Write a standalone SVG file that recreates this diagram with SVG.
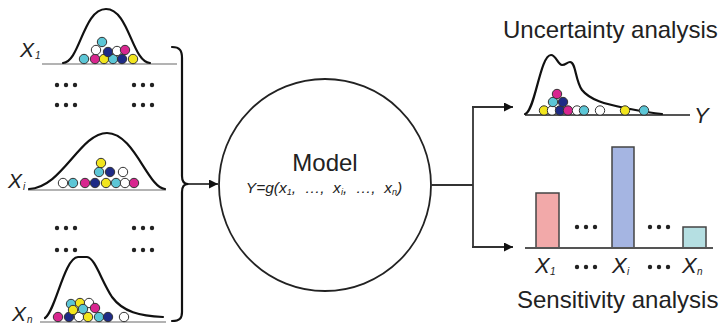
<svg xmlns="http://www.w3.org/2000/svg" width="727" height="327" viewBox="0 0 727 327">
<defs>
<style>
.base{stroke:#9a9a9a;stroke-width:1.6;fill:none}
.curve{stroke:#111;stroke-width:2.2;fill:none;stroke-linejoin:round;stroke-linecap:round}
.b{stroke:#333;stroke-width:1}
.c{fill:#5cc6d6}.m{fill:#d8268f}.y{fill:#f2e51e}.n{fill:#1e2b86}.w{fill:#ffffff}
.lbl{font-family:"Liberation Sans",Arial,sans-serif;font-style:italic;fill:#222}
.txt{font-family:"Liberation Sans",Arial,sans-serif;fill:#222}
.conn{stroke:#333;stroke-width:1.8;fill:none}
.dot{fill:#222}
.axis{stroke:#555;stroke-width:2}
</style>
<marker id="arrw" viewBox="0 0 10 10" refX="10" refY="5" markerWidth="10" markerHeight="9" markerUnits="userSpaceOnUse" orient="auto">
<path d="M0,0 L10,5 L0,10 z" fill="#111"/>
</marker>
</defs>

<g id="dist-x1">
<line class="base" x1="42" y1="64" x2="177" y2="64"/>
<path class="curve" d="M63,63 C80,62 83,9 106,9 C129,9 132,62 150,63"/>
<g class="b">
<circle class="c" cx="84" cy="59" r="4.7"/><circle class="m" cx="95" cy="59" r="4.7"/><circle class="y" cx="104" cy="59" r="4.7"/><circle class="c" cx="113" cy="59" r="4.7"/><circle class="n" cx="122" cy="59" r="4.7"/><circle class="y" cx="133" cy="59" r="4.7"/>
<circle class="w" cx="96" cy="50" r="4.7"/><circle class="n" cx="108" cy="52" r="4.7"/><circle class="w" cx="117" cy="51" r="4.7"/><circle class="m" cx="125" cy="50" r="4.7"/>
<circle class="c" cx="102" cy="42" r="4.7"/>
</g>
<text class="lbl" x="20" y="57" font-size="21">X</text><text class="lbl" x="35" y="59" font-size="10">1</text>
</g>

<g id="dots-top">
<circle class="dot" cx="57" cy="85" r="2.2"/><circle class="dot" cx="66" cy="85" r="2.2"/><circle class="dot" cx="75" cy="85" r="2.2"/>
<circle class="dot" cx="134" cy="85" r="2.2"/><circle class="dot" cx="143" cy="85" r="2.2"/><circle class="dot" cx="152" cy="85" r="2.2"/>
<circle class="dot" cx="57" cy="105" r="2.2"/><circle class="dot" cx="66" cy="105" r="2.2"/><circle class="dot" cx="75" cy="105" r="2.2"/>
<circle class="dot" cx="134" cy="105" r="2.2"/><circle class="dot" cx="143" cy="105" r="2.2"/><circle class="dot" cx="152" cy="105" r="2.2"/>
</g>

<g id="dist-xi">
<line class="base" x1="28" y1="190" x2="166" y2="190"/>
<path class="curve" d="M29,189 C62,188 80,133 107,133 C134,133 148,188 165,189"/>
<g class="b">
<circle class="w" cx="63" cy="183" r="4.7"/><circle class="c" cx="73" cy="183" r="4.7"/><circle class="m" cx="85" cy="183" r="4.7"/><circle class="n" cx="95" cy="183" r="4.7"/><circle class="y" cx="106" cy="183" r="4.7"/><circle class="c" cx="116" cy="183" r="4.7"/><circle class="w" cx="125" cy="183" r="4.7"/><circle class="m" cx="134" cy="183" r="4.7"/>
<circle class="c" cx="99" cy="172" r="4.7"/><circle class="n" cx="110" cy="172" r="4.7"/><circle class="w" cx="123" cy="172" r="4.7"/>
<circle class="y" cx="101" cy="163" r="4.7"/>
</g>
<text class="lbl" x="8" y="188" font-size="21">X</text><text class="lbl" x="23" y="190" font-size="10">i</text>
</g>

<g id="dots-bottom">
<circle class="dot" cx="57" cy="228" r="2.2"/><circle class="dot" cx="66" cy="228" r="2.2"/><circle class="dot" cx="75" cy="228" r="2.2"/>
<circle class="dot" cx="134" cy="228" r="2.2"/><circle class="dot" cx="143" cy="228" r="2.2"/><circle class="dot" cx="152" cy="228" r="2.2"/>
<circle class="dot" cx="57" cy="250" r="2.2"/><circle class="dot" cx="66" cy="250" r="2.2"/><circle class="dot" cx="75" cy="250" r="2.2"/>
<circle class="dot" cx="134" cy="250" r="2.2"/><circle class="dot" cx="143" cy="250" r="2.2"/><circle class="dot" cx="152" cy="250" r="2.2"/>
</g>

<g id="dist-xn">
<line class="base" x1="40" y1="322" x2="166" y2="322"/>
<path class="curve" d="M45,318 C56,310 64,258 78,257 L87,257 C95,258 101,280 112,297 C123,312 140,316 163,317"/>
<g class="b">
<circle class="m" cx="58" cy="317" r="4.7"/><circle class="n" cx="69" cy="317" r="4.7"/><circle class="w" cx="79" cy="317" r="4.7"/><circle class="y" cx="88" cy="317" r="4.7"/><circle class="c" cx="99" cy="317" r="4.7"/><circle class="n" cx="108" cy="317" r="4.7"/><circle class="w" cx="124" cy="317" r="4.7"/>
<circle class="c" cx="71" cy="304" r="4.7"/><circle class="y" cx="80" cy="303" r="4.7"/><circle class="w" cx="89" cy="303" r="4.7"/>
<circle class="y" cx="73" cy="310" r="4.7"/><circle class="c" cx="83" cy="309" r="4.7"/><circle class="m" cx="95" cy="308" r="4.7"/>
</g>
<text class="lbl" x="12" y="321" font-size="21">X</text><text class="lbl" x="27" y="323" font-size="10">n</text>
</g>

<g id="brace">
<path class="curve" stroke-width="2" d="M172,47 C180,47 182,51 182,58 L182,176 C182,182 184,184 188,184 C184,184 182,186 182,192 L182,312 C182,318 180,321 172,321"/>
</g>

<g id="model">
<circle cx="325" cy="185" r="106" fill="#fff" stroke="#222" stroke-width="1.8"/>
<text class="txt" x="325" y="171" font-size="24" text-anchor="middle">Model</text>
<text class="lbl" x="324" y="193" font-size="15.5" text-anchor="middle" xml:space="preserve">Y=g(x<tspan font-size="9" dy="2">1</tspan><tspan dy="-2">,  …,  x</tspan><tspan font-size="9" dy="2">i</tspan><tspan dy="-2">,  …,  x</tspan><tspan font-size="9" dy="2">n</tspan><tspan dy="-2">)</tspan></text>
</g>

<g id="connectors">
<line class="conn" x1="188" y1="184" x2="218" y2="184" marker-end="url(#arrw)"/>
<line class="conn" x1="431" y1="185" x2="473" y2="185"/>
<polyline class="conn" points="473,107 473,247"/>
<line class="conn" x1="472" y1="107" x2="513" y2="107" marker-end="url(#arrw)"/>
<line class="conn" x1="472" y1="247" x2="513" y2="247" marker-end="url(#arrw)"/>
</g>

<g id="uncertainty">
<text class="txt" x="503" y="38" font-size="24">Uncertainty analysis</text>
<line class="axis" x1="525" y1="115" x2="690" y2="115"/>
<path class="curve" d="M525,114 C535,112 540,55 551,55 C556,55 558,65 562,65 C566,65 567,62 570,62 C576,62 575,80 582,90 C590,100 605,104 625,108 C640,111 650,113 662,114"/>
<g class="b">
<circle class="y" cx="544" cy="110.5" r="4.7"/><circle class="w" cx="552" cy="110.5" r="4.7"/><circle class="n" cx="560" cy="110.5" r="4.7"/><circle class="m" cx="568" cy="110.5" r="4.7"/><circle class="w" cx="577" cy="110.5" r="4.7"/><circle class="c" cx="584" cy="110.5" r="4.7"/><circle class="w" cx="600" cy="110.5" r="4.7"/><circle class="y" cx="625" cy="110.5" r="4.7"/><circle class="c" cx="644" cy="110.5" r="4.7"/>
<circle class="c" cx="553" cy="102" r="4.7"/><circle class="n" cx="563" cy="102" r="4.7"/>
<circle class="m" cx="557" cy="94" r="4.7"/>
</g>
<text class="lbl" x="694" y="123" font-size="22">Y</text>
</g>

<g id="sensitivity">
<rect x="536" y="193" width="23" height="55" fill="#f2a9a9" stroke="#444" stroke-width="1.5"/>
<rect x="612" y="147" width="22" height="101" fill="#a5b5e2" stroke="#444" stroke-width="1.5"/>
<rect x="683" y="227" width="23" height="21" fill="#b5dfe2" stroke="#444" stroke-width="1.5"/>
<line class="axis" x1="525" y1="248" x2="713" y2="248"/>
<circle class="dot" cx="577" cy="227" r="2.2"/><circle class="dot" cx="586" cy="227" r="2.2"/><circle class="dot" cx="595" cy="227" r="2.2"/>
<circle class="dot" cx="650" cy="227" r="2.2"/><circle class="dot" cx="659" cy="227" r="2.2"/><circle class="dot" cx="668" cy="227" r="2.2"/>
<text class="lbl" x="535" y="273" font-size="22">X</text><text class="lbl" x="550" y="275" font-size="10">1</text>
<circle class="dot" cx="577" cy="267" r="2.2"/><circle class="dot" cx="586" cy="267" r="2.2"/><circle class="dot" cx="595" cy="267" r="2.2"/>
<text class="lbl" x="612" y="273" font-size="22">X</text><text class="lbl" x="627" y="275" font-size="10">i</text>
<circle class="dot" cx="650" cy="267" r="2.2"/><circle class="dot" cx="659" cy="267" r="2.2"/><circle class="dot" cx="668" cy="267" r="2.2"/>
<text class="lbl" x="682" y="273" font-size="22">X</text><text class="lbl" x="697" y="275" font-size="10">n</text>
<text class="txt" x="517" y="308" font-size="24">Sensitivity analysis</text>
</g>
</svg>
